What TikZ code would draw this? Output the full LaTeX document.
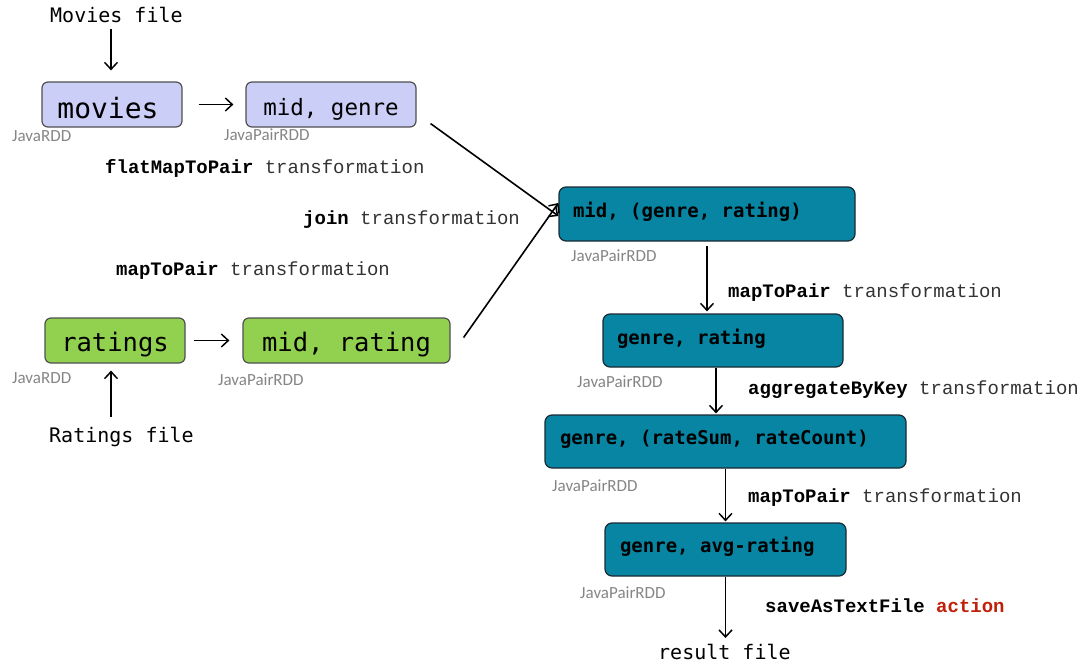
\documentclass[tikz,border=0pt]{standalone}
\usepackage{fontspec}
\usetikzlibrary{arrows.meta}
\newfontfamily\boxfont{DejaVu Sans Mono}
\newfontfamily\codefont{Liberation Mono}
\newfontfamily\calfont{Carlito}
\newcommand\msp{\hspace*{0.602em}}
\definecolor{lav}{HTML}{CBCEF7}
\definecolor{grn}{HTML}{92D050}
\definecolor{teal2}{HTML}{0785A3}
\definecolor{bord}{HTML}{505050}
\definecolor{tbord}{HTML}{1A2A33}
\definecolor{lblgray}{HTML}{858585}
\definecolor{actred}{HTML}{C0200A}
\definecolor{codegray}{HTML}{333333}
\tikzset{
  lbox/.style={draw=bord, line width=1.2pt, rounded corners=6pt, inner sep=0pt, minimum height=45pt, text depth=0pt, font=\boxfont},
  tbox/.style={draw=tbord, fill=teal2, line width=1.2pt, rounded corners=7pt, inner ysep=0pt, inner xsep=14pt, minimum height=53pt, text height=6pt, text depth=0pt, align=left, font=\boxfont\bfseries\fontsize{19}{19}\selectfont},
  rdd/.style={anchor=west, inner sep=0pt, text=lblgray, font=\calfont\fontsize{17}{17}\selectfont},
  codel/.style={anchor=west, inner sep=0pt, text=codegray, font=\codefont\fontsize{19}{19}\selectfont},
  filel/.style={anchor=west, inner sep=0pt, font=\boxfont\fontsize{20}{20}\selectfont},
  arr/.style={line width=1.6pt, -{Straight Barb[length=7pt,width=13pt,line width=1.5pt]}}
}
\begin{document}
\begin{tikzpicture}[x=1pt,y=-1pt]
\useasboundingbox (0,0) rectangle (1092,669);
% left boxes
\node[lbox, fill=lav, minimum width=140pt, text height=28pt, font=\boxfont\fontsize{28}{28}\selectfont] (movies) at (112,104.5) {movies\hspace*{8pt}};
\node[lbox, fill=lav, minimum width=170pt, text height=21pt, font=\boxfont\fontsize{22.5}{22.5}\selectfont] (midgenre) at (331,104.5) {mid, genre};
\node[lbox, fill=grn, minimum width=140pt, text height=22pt, font=\boxfont\fontsize{25.5}{25.5}\selectfont] (ratings) at (115,340.5) {ratings};
\node[lbox, fill=grn, minimum width=207pt, text height=22pt, font=\boxfont\fontsize{25.5}{25.5}\selectfont] (midrating) at (346.5,340.5) {mid, rating};
% teal boxes
\node[tbox, text width=268pt, minimum height=54pt] (join) at (707,214) {\mbox{mid,\msp(genre,\msp rating)}};
\node[tbox, text width=212pt, text height=8pt] (genrerating) at (723,340.5) {\mbox{genre,\msp rating}};
\node[tbox, text width=331pt, inner xsep=15pt] (gsum) at (725.5,441.5) {\mbox{genre,\msp(rateSum,\msp rateCount)}};
\node[tbox, text width=211pt, inner xsep=15pt] (avg) at (725.5,549.5) {\mbox{genre,\msp avg-rating}};
% file labels
\node[filel] (moviesfile) at (50,15) {Movies file};
\node[filel] (ratingsfile) at (49,437) {Ratings file};
\node[filel] (resultfile) at (658,652) {result file};
% rdd labels
\node[rdd] (r1) at (12,136) {JavaRDD};
\node[rdd] (r2) at (224,135) {JavaPairRDD};
\node[rdd] (r3) at (12,378) {JavaRDD};
\node[rdd] (r4) at (218,380) {JavaPairRDD};
\node[rdd] (r5) at (571,256) {JavaPairRDD};
\node[rdd] (r6) at (577,382) {JavaPairRDD};
\node[rdd] (r7) at (552,486) {JavaPairRDD};
\node[rdd] (r8) at (580,593) {JavaPairRDD};
% code labels
\node[codel] (l1) at (105,168) {\textbf{\color{black}flatMapToPair} transformation};
\node[codel] (l2) at (303,220) {\textbf{\color{black}join} transformation};
\node[codel] (l3) at (116,271) {\textbf{\color{black}mapToPair} transformation};
\node[codel] (l4) at (728,293) {\textbf{\color{black}mapToPair} transformation};
\node[codel] (l5) at (748,390) {\textbf{\color{black}aggregateByKey} transformation};
\node[codel] (l6) at (748,498) {\textbf{\color{black}mapToPair} transformation};
\node[codel] (l7) at (765,606) {\textbf{\color{black}saveAsTextFile} \textcolor{actred}{\textbf{action}}};
% arrows
\draw[arr, shorten <=6pt, shorten >=11pt] ([xshift=-1pt]movies.north |- moviesfile.south) -- ([xshift=-1pt]movies.north);
\draw[arr, shorten <=16pt, shorten >=12pt] (movies) -- (midgenre);
\draw[arr, shorten <=8pt, shorten >=13pt] (ratings) -- (midrating);
\draw[arr, shorten <=10pt, shorten >=7pt] ([xshift=-4pt]ratings.south |- ratingsfile.north) -- ([xshift=-4pt]ratings.south);
\draw[arr] ([shift={(14,-4)}]midgenre.south east) -- ([yshift=-2pt]join.west);
\draw[arr] ([shift={(13,-3)}]midrating.east) -- ([yshift=11pt]join.west);
\draw[arr, shorten <=4pt, shorten >=2pt] (join.south) -- (join.south |- genrerating.north);
\draw[arr, shorten >=1pt] ([xshift=-7pt]genrerating.south) -- ([xshift=-7pt]genrerating.south |- gsum.north);
\draw[arr, shorten >=1pt] (gsum.south) -- (gsum.south |- avg.north);
\draw[arr, shorten >=6pt] (avg.south) -- (avg.south |- resultfile.north);
\end{tikzpicture}
\end{document}
